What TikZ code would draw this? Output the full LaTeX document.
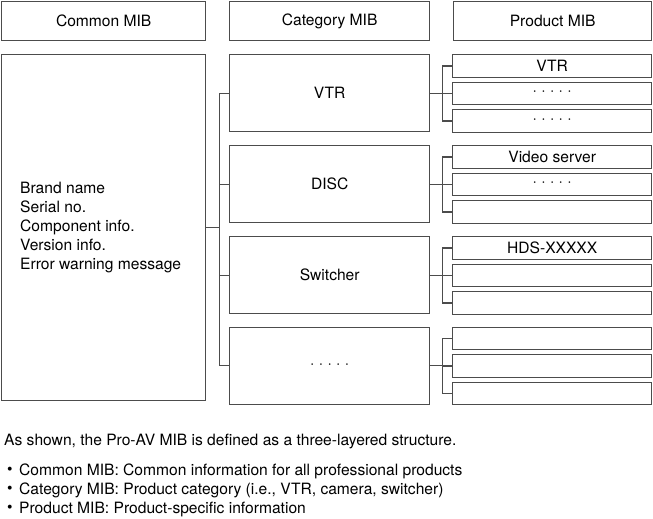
\documentclass[tikz,border=0pt]{standalone}
\usepackage{fontspec}
\setmainfont{TeX Gyre Heros}
\begin{document}
\begin{tikzpicture}[x=1pt,y=-1pt,
  ln/.style={draw=black!70,line width=1.4pt},
  box/.style={ln,rectangle,inner sep=0pt,anchor=north west,font=\fontsize{15.6}{18}\selectfont},
  hdr/.style={box,minimum height=39pt},
  cat/.style={box,minimum width=200pt,minimum height=77pt},
  prod/.style={box,minimum width=199pt,minimum height=22.5pt},
  txt/.style={inner sep=0pt,anchor=west,font=\fontsize{15.6}{19}\selectfont},
  con/.style={draw=black!70,line width=1.3pt}]
\useasboundingbox (0,0) rectangle (653,519);
% headers
\node[hdr,minimum width=204pt] (hc) at (1,1) {Common MIB};
\node[hdr,minimum width=200pt] (hk) at (229,1) {Category MIB};
\node[hdr,minimum width=198pt] (hp) at (453,1) {Product MIB};
% common box
\node[box,minimum width=204pt,minimum height=346pt] (big) at (1,54) {};
\node[txt,align=left] (bigtxt) at (20,228) {Brand name\\Serial no.\\Component info.\\Version info.\\Error warning message};
% category boxes
\node[cat] (c1) at (229,54) {VTR};
\node[cat] (c2) at (229,145) {DISC};
\node[cat] (c3) at (229,236) {Switcher};
\node[cat] (c4) at (229,326.5) {· · · · ·};
% product boxes
\node[prod] (p11) at (452,54) {VTR};
\node[prod] (p12) at (452,81.5) {· · · · ·};
\node[prod] (p13) at (452,109) {· · · · ·};
\node[prod] (p21) at (452,145) {Video server};
\node[prod] (p22) at (452,172.5) {· · · · ·};
\node[prod] (p23) at (452,200) {};
\node[prod] (p31) at (452,236) {HDS-XXXXX};
\node[prod] (p32) at (452,263.5) {};
\node[prod] (p33) at (452,291) {};
\node[prod] (p41) at (452,326.5) {};
\node[prod] (p42) at (452,354) {};
\node[prod] (p43) at (452,381.5) {};
% connectors common -> category
\draw[con] (big.east) -- ++(13,0) coordinate (t);
\draw[con] (t |- c1.west) -- (t |- c4.west);
\foreach \i in {1,...,4} \draw[con] (t |- c\i.west) -- (c\i.west);
% connectors category -> product
\foreach \i in {1,...,4} {
  \draw[con] (c\i.east) -- ++(12,0) coordinate (u\i);
  \draw[con] (u\i |- p\i1.west) -- (u\i |- p\i3.west);
  \foreach \j in {1,2,3} \draw[con] (u\i |- p\i\j.west) -- (p\i\j.west);
}
% caption
\node[txt] (cap) at (4,441) {As shown, the Pro-AV MIB is defined as a three-layered structure.};
\node[txt] (b1) at (7,471) {•};
\node[txt] (l1) at (19,471) {Common MIB: Common information for all professional products};
\node[txt] (b2) at (7,490) {•};
\node[txt] (l2) at (19,490) {Category MIB: Product category (i.e., VTR, camera, switcher)};
\node[txt] (b3) at (7,509) {•};
\node[txt] (l3) at (19,509) {Product MIB: Product-specific information};
\end{tikzpicture}
\end{document}
